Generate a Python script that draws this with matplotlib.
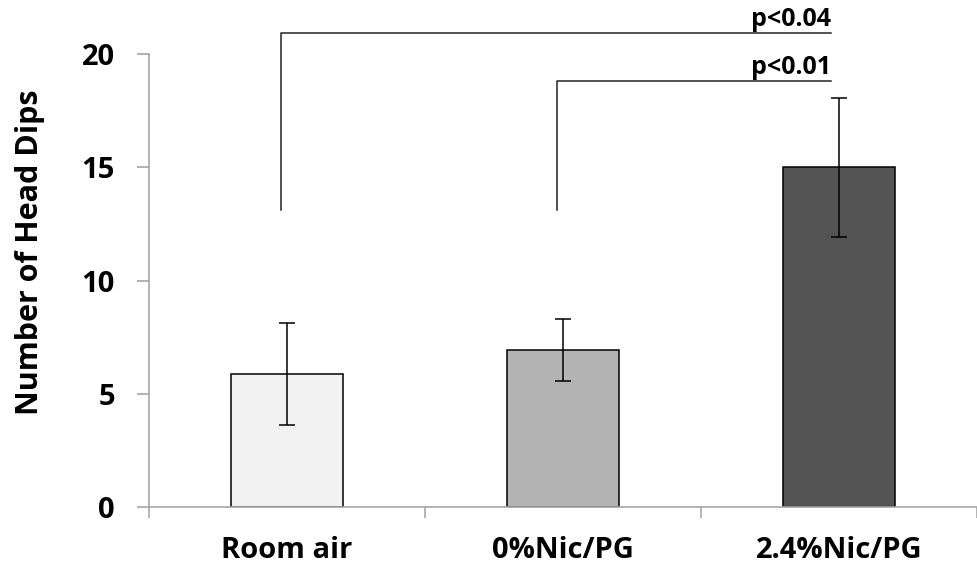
import matplotlib
matplotlib.use('Agg')
import matplotlib.pyplot as plt
import numpy as np

groups = ['Room air', '0%Nic/PG', '2.4%Nic/PG']
means = [5.87, 6.93, 15.0]
errs = [2.27, 1.37, 3.06]
colors = ['#f2f2f2', '#b3b3b3', '#545454']
y_ticks = [0, 5, 10, 15, 20]

# significance brackets: (from group, to group, start y, bar y, label)
sig = [(0, 2, 13.1, 20.93, 'p<0.04'),
       (1, 2, 13.1, 18.82, 'p<0.01')]

plt.rcParams['font.family'] = ['Open Sans', 'DejaVu Sans']
plt.rcParams['font.weight'] = 'bold'

fig = plt.figure(figsize=(9.77, 5.71), dpi=100)
ax = fig.add_axes([149/977, 64/571, 828/977, 453/571])

x = np.arange(len(groups))
ax.bar(x, means, width=0.403, color=colors, edgecolor='black', linewidth=1.1, zorder=2)
ax.errorbar(x, means, yerr=errs, fmt='none', ecolor='black', elinewidth=1.1,
            capsize=5.8, capthick=1.1, zorder=3)

ax.set_xlim(-0.5, -0.5 + 828/280)
ax.set_ylim(0, 20)
ax.set_yticks(y_ticks)
ax.set_yticklabels([str(t) for t in y_ticks], fontsize=21, fontweight='bold')
ax.set_xticks(x)
ax.set_xticklabels(groups, fontsize=21, fontweight='bold')
ax.set_xticks([-0.5, 0.5, 1.5, 2.5], minor=True)
ax.tick_params(axis='x', which='major', length=0, pad=21)
ax.tick_params(axis='x', which='minor', length=8, width=1.2, color='#a6a6a6')
ax.tick_params(axis='y', length=8.5, width=1.2, color='#a6a6a6', pad=16)

for s in ['top', 'right']:
    ax.spines[s].set_visible(False)
for s in ['left', 'bottom']:
    ax.spines[s].set_color('#a6a6a6')
    ax.spines[s].set_linewidth(1.2)

for a, b, y0, y1, lab in sig:
    ax.plot([a - 0.02, a - 0.02, b - 0.03], [y0, y1, y1], color='#222222',
            linewidth=1.1, clip_on=False, zorder=4)
    ax.text(b - 0.03, y1 + 0.05, lab, ha='right', va='bottom', fontsize=18,
            fontweight='bold')

fig.text(30/977, 1 - 252/571, 'Number of Head Dips', rotation=90, ha='center',
         va='center', fontsize=22, fontweight='bold')

fig.savefig('out.png', dpi=100)
